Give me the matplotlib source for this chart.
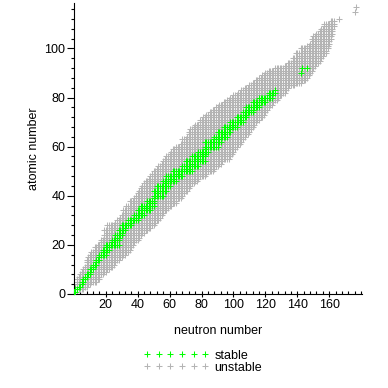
import numpy as np
import matplotlib
matplotlib.use("Agg")
import matplotlib.pyplot as plt

plt.rcParams['font.family'] = ['Liberation Sans', 'DejaVu Sans']

# known nuclides: for each atomic number, lightest and heaviest neutron number seen
known_z = list(range(0, 112))
known_n_min = [1, 0, 1, 1, 2, 2, 2, 3, 4, 5,
               6, 7, 8, 8, 8, 9, 10, 11, 13, 13,
               15, 17, 17, 19, 19, 21, 19, 23, 21, 26,
               27, 29, 30, 32, 31, 35, 33, 37, 35, 38,
               39, 40, 41, 42, 43, 44, 45, 47, 48, 49,
               50, 52, 53, 55, 56, 57, 58, 60, 61, 62,
               64, 67, 69, 68, 71, 72, 72, 73, 75, 76,
               79, 79, 81, 83, 85, 87, 89, 91, 94, 96,
               98, 100, 103, 105, 107, 110, 112, 114, 116, 118,
               120, 122, 126, 132, 134, 137, 137, 141, 139, 144,
               142, 146, 148, 150, 149, 150, 152, 154, 155, 157,
               157, 161]
known_n_max = [1, 2, 6, 8, 10, 14, 16, 16, 18, 20,
               22, 24, 25, 26, 28, 30, 32, 34, 35, 36,
               37, 38, 40, 41, 42, 44, 46, 48, 50, 51,
               53, 54, 55, 56, 58, 59, 61, 64, 64, 67,
               68, 69, 71, 72, 73, 75, 77, 78, 82, 83,
               87, 88, 90, 92, 93, 97, 98, 99, 100, 101,
               102, 104, 105, 106, 107, 109, 110, 111, 112, 113,
               114, 116, 118, 119, 120, 121, 122, 124, 125, 127,
               128, 130, 132, 133, 134, 138, 142, 145, 146, 147,
               148, 149, 150, 151, 153, 154, 155, 156, 158, 158,
               159, 159, 160, 160, 161, 161, 162, 162, 162, 163,
               163, 163]
# lone superheavy points at the top right
extra_z = [112, 115, 117]
extra_n = [166, 176, 177]

# stable nuclides: range of stable neutron numbers per atomic number (None = no stable isotope)
stable_z = list(range(1, 84))
stable_n_min = [0, 1, 3, 5, 5, 6, 7, 8, 10, 10,
                12, 12, 14, 14, 16, 16, 18, 18, 20, 20,
                24, 24, 27, 26, 30, 28, 32, 30, 34, 34,
                38, 38, 42, 40, 44, 42, 48, 46, 50, 50,
                52, 50, None, 52, 58, 56, 60, 58, 64, 62,
                70, 68, 74, 70, 78, 74, 81, 78, 82, 82,
                None, 82, 88, 88, 94, 90, 98, 94, 100, 98,
                104, 102, 107, 106, 110, 108, 114, 112, 118, 116,
                122, 122, 126]
stable_n_max = [1, 2, 4, 5, 6, 7, 8, 10, 10, 12,
                12, 14, 14, 16, 16, 20, 20, 22, 22, 28,
                24, 28, 28, 30, 30, 32, 32, 36, 36, 40,
                40, 44, 42, 48, 46, 50, 50, 50, 50, 56,
                52, 58, None, 60, 58, 64, 62, 68, 66, 74,
                72, 78, 74, 82, 78, 82, 82, 84, 82, 90,
                None, 92, 90, 96, 94, 98, 98, 102, 100, 106,
                105, 108, 108, 112, 112, 116, 116, 120, 118, 124,
                124, 126, 126]
heavy_stable_z = [90, 92, 92]
heavy_stable_n = [142, 143, 146]


def expand(zs, lo, hi):
    n_out, z_out = [], []
    for z, a, b in zip(zs, lo, hi):
        if a is None:
            continue
        n = np.arange(a, b + 1)
        n_out.extend(n)
        z_out.extend([z] * len(n))
    return np.array(n_out), np.array(z_out)


un_n, un_z = expand(known_z, known_n_min, known_n_max)
un_n = np.concatenate([un_n, extra_n])
un_z = np.concatenate([un_z, extra_z])
st_n, st_z = expand(stable_z, stable_n_min, stable_n_max)
st_n = np.concatenate([st_n, heavy_stable_n])
st_z = np.concatenate([st_z, heavy_stable_z])

fig = plt.figure(figsize=(3.88, 3.88), dpi=100)
ax = fig.add_axes([0.1902, 0.2423, 0.7428, 0.75])

ax.plot(un_n, un_z, linestyle='none', marker='+', markersize=4.3, markeredgewidth=0.75,
        color='#b4b4b4', antialiased=False, label='unstable', zorder=2)
ax.plot(st_n, st_z, linestyle='none', marker='+', markersize=4.3, markeredgewidth=0.75,
        color='#00ff00', antialiased=False, label='stable', zorder=3)

ax.set_xlim(0, 180.5)
ax.set_ylim(0, 118.5)
ax.set_xticks(np.arange(20, 161, 20))
ax.set_yticks(np.arange(0, 101, 20))
ax.set_xticks(np.arange(0, 181, 4), minor=True)
ax.set_yticks(np.arange(0, 118, 4), minor=True)
ax.spines['top'].set_visible(False)
ax.spines['right'].set_visible(False)
for s in ('left', 'bottom'):
    ax.spines[s].set_linewidth(0.8)
ax.tick_params(axis='y', which='major', direction='out', length=5, width=0.8, labelsize=9, pad=1)
ax.tick_params(axis='y', which='minor', direction='out', length=2.2, width=0.8)
ax.tick_params(axis='x', which='major', direction='inout', length=5, width=0.8, labelsize=9, pad=1)
ax.tick_params(axis='x', which='minor', direction='in', length=2, width=0.8)

ax.set_xlabel('neutron number', fontsize=9, labelpad=10)
ax.set_ylabel('atomic number', fontsize=9, labelpad=3)

handles, labels = ax.get_legend_handles_labels()
fig.legend(handles[::-1], labels[::-1], loc='center left', bbox_to_anchor=(0.3698, 0.0675),
           numpoints=6, handlelength=5.24, handletextpad=0.45, labelspacing=0.0,
           frameon=False, borderpad=0, borderaxespad=0, fontsize=9)

fig.savefig('out.png', dpi=100)
